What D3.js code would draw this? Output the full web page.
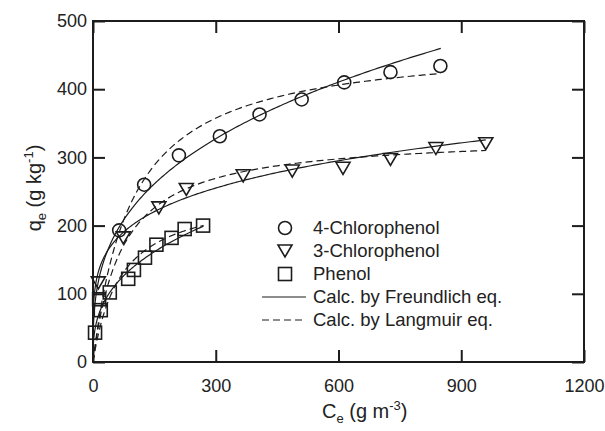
<!DOCTYPE html>
<html>
<head>
<meta charset="utf-8">
<script src="https://cdn.jsdelivr.net/npm/d3@7"></script>
<style>
  html, body { margin: 0; padding: 0; background: #fff; }
  svg { display: block; font-family: "Liberation Sans", Arial, sans-serif; }
</style>
</head>
<body>
<svg id="chart" width="605" height="431"></svg>
<script>
// ---- Data ----
const xTicks = [0, 300, 600, 900, 1200];
const yTicks = [0, 100, 200, 300, 400, 500];

const chloro4C = [64, 125, 210, 310, 407, 510, 614, 727, 849];
const chloro4Q = [193, 260, 303, 331, 363, 385, 410, 425, 434];

const chloro3C = [13, 74, 161, 228, 367, 487, 611, 727, 838, 960];
const chloro3Q = [116, 182, 226, 253, 273, 280, 284, 297, 313, 320];

const phenolC = [5, 15, 19, 41, 86, 100, 127, 155, 192, 224, 269];
const phenolQ = [43, 92, 76, 102, 122, 135, 153, 172, 182, 195, 200];

// fitted isotherm parameters (estimated from the drawn curves)
const seriesNames = ["4-Chlorophenol", "3-Chlorophenol", "Phenol"];
const freundK = [51, 77, 27.3];
const freundInvN = [0.326, 0.21, 0.355];
const langQmax = [470, 333, 250];
const langB = [0.0106, 0.0141, 0.0149];
const curveCmax = [850, 960, 270];

const legendLabels = ["4-Chlorophenol", "3-Chlorophenol", "Phenol",
                      "Calc. by Freundlich eq.", "Calc. by Langmuir eq."];

// ---- Layout ----
const svg = d3.select("#chart");
const L = 93, R = 584, T = 21, B = 362;
const ink = "#1c1c1c";
const dash = "7,4";

const x = d3.scaleLinear().domain([0, 1200]).range([L, R]);
const y = d3.scaleLinear().domain([0, 500]).range([B, T]);

// axes with inward ticks
const tickLen = 12;
const fmt = d3.format("d");
const gx = svg.append("g").attr("transform", `translate(0,${B})`)
  .call(d3.axisBottom(x).tickValues(xTicks).tickSize(-tickLen).tickPadding(17).tickFormat(fmt));
const gy = svg.append("g").attr("transform", `translate(${L},0)`)
  .call(d3.axisLeft(y).tickValues(yTicks).tickSize(-tickLen).tickPadding(6).tickFormat(fmt));
const gxt = svg.append("g").attr("transform", `translate(0,${T})`)
  .call(d3.axisTop(x).tickValues(xTicks).tickSize(-tickLen).tickFormat(""));
const gyr = svg.append("g").attr("transform", `translate(${R},0)`)
  .call(d3.axisRight(y).tickValues(yTicks).tickSize(-tickLen).tickFormat(""));

[gx, gy, gxt, gyr].forEach(g => {
  g.select(".domain").remove();
  g.selectAll(".tick line").attr("stroke", ink).attr("stroke-width", 2);
  g.selectAll(".tick text").attr("fill", "#222").style("font-size", "18px")
    .style("font-family", "'Liberation Sans', Arial, sans-serif");
});

svg.append("rect").attr("x", L).attr("y", T).attr("width", R - L).attr("height", B - T)
  .attr("fill", "none").attr("stroke", ink).attr("stroke-width", 2);

// ---- curves ----
const line = d3.line().x(d => x(d[0])).y(d => y(d[1]));
const plot = svg.append("g");

seriesNames.forEach((name, i) => {
  const cs = d3.range(0, 201).map(k => curveCmax[i] * Math.pow(k / 200, 2));
  const fr = cs.map(c => [c, freundK[i] * Math.pow(c, freundInvN[i])]);
  const lg = cs.map(c => [c, langQmax[i] * langB[i] * c / (1 + langB[i] * c)]);
  plot.append("path").attr("d", line(fr)).attr("fill", "none")
    .attr("stroke", ink).attr("stroke-width", 1.2);
  plot.append("path").attr("d", line(lg)).attr("fill", "none")
    .attr("stroke", ink).attr("stroke-width", 1.2).attr("stroke-dasharray", dash);
});

// ---- markers ----
const mk = { stroke: ink, sw: 1.6 };
function circleAt(g, cx, cy) {
  g.append("circle").attr("cx", cx).attr("cy", cy).attr("r", 6.5)
    .attr("fill", "none").attr("stroke", mk.stroke).attr("stroke-width", mk.sw);
}
function triAt(g, cx, cy) {
  g.append("path").attr("d", `M${cx - 7},${cy - 6}L${cx + 7},${cy - 6}L${cx},${cy + 6}Z`)
    .attr("fill", "none").attr("stroke", mk.stroke).attr("stroke-width", mk.sw);
}
function sqAt(g, cx, cy) {
  g.append("rect").attr("x", cx - 6.5).attr("y", cy - 6.5).attr("width", 13).attr("height", 13)
    .attr("fill", "none").attr("stroke", mk.stroke).attr("stroke-width", mk.sw);
}
chloro4C.forEach((c, i) => circleAt(plot, x(c), y(chloro4Q[i])));
chloro3C.forEach((c, i) => triAt(plot, x(c), y(chloro3Q[i])));
phenolC.forEach((c, i) => sqAt(plot, x(c), y(phenolQ[i])));

// ---- legend ----
const lg = svg.append("g");
const rowY = [228, 251, 274, 297, 320];
const mX = 285, tX = 313;
circleAt(lg, mX, rowY[0]);
triAt(lg, mX, rowY[1]);
sqAt(lg, mX, rowY[2]);
lg.append("line").attr("x1", 262).attr("x2", 306).attr("y1", rowY[3]).attr("y2", rowY[3])
  .attr("stroke", ink).attr("stroke-width", 1.2);
lg.append("line").attr("x1", 262).attr("x2", 306).attr("y1", rowY[4]).attr("y2", rowY[4])
  .attr("stroke", ink).attr("stroke-width", 1.2).attr("stroke-dasharray", dash);
legendLabels.forEach((t, i) => {
  lg.append("text").attr("x", tX).attr("y", rowY[i]).attr("dy", "0.35em")
    .attr("fill", "#222").style("font-size", "18.5px").text(t);
});

// ---- axis titles ----
const xt = svg.append("text").attr("x", 322).attr("y", 418).attr("fill", "#222")
  .style("font-size", "20px");
xt.append("tspan").text("C");
xt.append("tspan").attr("dy", 5).style("font-size", "13px").text("e");
xt.append("tspan").attr("dy", -5).text(" (g m");
xt.append("tspan").attr("dy", -8).style("font-size", "13px").text("-3");
xt.append("tspan").attr("dy", 8).text(")");

const yt = svg.append("text").attr("transform", "translate(41,188) rotate(-90)")
  .attr("text-anchor", "middle").attr("fill", "#222").style("font-size", "20px");
yt.append("tspan").text("q");
yt.append("tspan").attr("dy", 5).style("font-size", "13px").text("e");
yt.append("tspan").attr("dy", -5).text(" (g kg");
yt.append("tspan").attr("dy", -8).style("font-size", "13px").text("-1");
yt.append("tspan").attr("dy", 8).text(")");
</script>
</body>
</html>
